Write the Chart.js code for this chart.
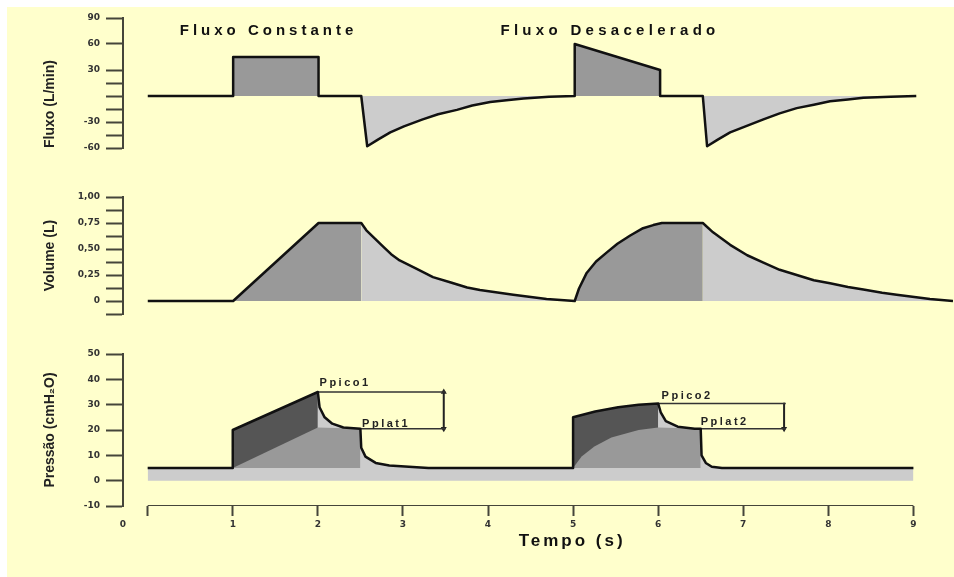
<!DOCTYPE html>
<html>
<head>
<meta charset="utf-8">
<script src="https://cdn.jsdelivr.net/npm/chart.js@4.4.1/dist/chart.umd.min.js"></script>
<style>
  body { margin: 0; background: #fff; }
  #wrap { position: relative; width: 954px; height: 577px; overflow: hidden; }
  #paper { position: absolute; left: 7px; top: 7px; right: 0; bottom: 0; background: #ffffcc; }
  canvas { position: absolute; left: 0; }
</style>
</head>
<body>
<div id="wrap">
  <div id="paper"></div>
  <canvas id="flowChart" width="954" height="170" style="top:0px"></canvas>
  <canvas id="volChart" width="954" height="160" style="top:170px"></canvas>
  <canvas id="presChart" width="954" height="247" style="top:330px"></canvas>
</div>
<script>
// fluxo (L/min)
const flowTime = [0, 1, 1, 2, 2, 2.5, 2.57, 2.7, 2.84, 3, 3.22, 3.4, 3.62, 3.8, 4.01, 4.2, 4.4, 4.7,
  5, 5, 6, 6, 6.5, 6.55, 6.68, 6.82, 7, 7.21, 7.4, 7.6, 7.8, 7.99, 8.2, 8.38, 8.7, 9];
const flowValue = [0, 0, 45, 45, 0, 0, -58, -50, -42, -35, -27, -21, -16, -11, -7, -5, -3, -1,
  0, 60, 30, 0, 0, -58, -50, -42, -35, -27, -20, -14, -10, -6, -4, -2, -1, 0];

// volume (L)
const volTime = [0, 1, 2, 2.5, 2.56, 2.66, 2.76, 2.85, 2.95, 3.15, 3.34, 3.54, 3.74, 3.89, 4.28, 4.67,
  5, 5.05, 5.14, 5.25, 5.38, 5.5, 5.65, 5.8, 5.92, 6.02, 6.5,
  6.62, 6.82, 7.02, 7.21, 7.4, 7.6, 7.8, 7.99, 8.2, 8.38, 8.6, 8.77, 9, 9.16, 9.43];
const volValue = [0, 0, 0.75, 0.75, 0.68, 0.6, 0.52, 0.45, 0.39, 0.31, 0.23, 0.18, 0.13, 0.105, 0.06, 0.02,
  0, 0.12, 0.27, 0.38, 0.47, 0.55, 0.63, 0.7, 0.73, 0.75, 0.75,
  0.66, 0.54, 0.44, 0.37, 0.3, 0.25, 0.2, 0.17, 0.135, 0.11, 0.08, 0.06, 0.035, 0.02, 0];

// pressao (cmH2O)
const presTime = [0, 1, 1, 2, 2.02, 2.08, 2.17, 2.3, 2.5, 2.51, 2.56, 2.68, 2.84, 3.07, 3.3,
  5, 5, 5.26, 5.53, 5.77, 6, 6.03, 6.09, 6.23, 6.43, 6.5, 6.51, 6.56, 6.63, 6.75, 9];
const presValue = [5, 5, 20, 35, 29, 25, 22.5, 21, 20.5, 13, 9.5, 7, 6, 5.5, 5,
  5, 25, 27.3, 29, 30, 30.5, 27, 23.5, 21.3, 20.5, 20.5, 10, 7, 5.5, 5, 5];
// pressao alveolar (area cinza media)
const alvTime = [1, 2, 2.5, 5, 5.1, 5.25, 5.45, 5.77, 6, 6.5];
const alvValue = [5, 21, 20.5, 5, 9.5, 13.5, 17, 20, 21, 20.5];
const peep = 5;

// fases do ciclo
const inspPhases = [[1, 2.5], [5, 6.5]];
const expPhases = [[2.5, 5], [6.5, 9.43]];
const risePhases = [[1, 2], [5, 6]];

// Ppico / Pplat
const picoT = [[2, 3.5], [6, 7.5]];
const picoP = [35, 30.5];
const platT = [[2.5, 3.5], [6.5, 7.5]];
const platP = [20.5, 20.5];
const arrowT = [3.48, 7.48];
const noteText = ['Ppico1', 'Pplat1', 'Ppico2', 'Pplat2'];
const noteT = [2.02, 2.52, 6.04, 6.5];
const noteP = [38.5, 22.5, 33.6, 23.3];

// eixos
const flowTicks = [-60, -45, -30, -15, 0, 15, 30, 60, 90];
const flowTickLabels = ['-60', '', '-30', '', '', '', '30', '60', '90'];
const volTicks = [-0.125, 0, 0.125, 0.25, 0.375, 0.5, 0.625, 0.75, 0.875, 1];
const volTickLabels = ['', '0', '', '0,25', '', '0,50', '', '0,75', '', '1,00'];
const presTicks = [-10, 0, 10, 20, 30, 40, 50];
const presTickLabels = ['-10', '0', '10', '20', '30', '40', '50'];
const timeTicks = [0, 1, 2, 3, 4, 5, 6, 7, 8, 9];
const timeTickLabels = ['0', '1', '2', '3', '4', '5', '6', '7', '8', '9'];

const xMin = -0.29, xMax = 9.43;
const axisColor = '#45453a';
const lineColor = '#111';
const tickFont = { family: '"DejaVu Sans", sans-serif', size: 9, weight: 'bold' };
const yTitleFont = { family: '"Liberation Sans", sans-serif', size: 14, weight: 'bold' };

function pts(ts, vs) {
  return ts.map((t, i) => ({ x: t, y: vs[i] }));
}
function within(ts, vs, ph) {
  return pts(ts, vs).filter(p => p.x >= ph[0] && p.x <= ph[1]);
}

// textos livres (titulos, Ppico/Pplat)
const notesPlugin = {
  id: 'notes',
  afterDatasetsDraw(chart, args, opts) {
    const ctx = chart.ctx;
    (opts.items || []).forEach(n => {
      ctx.save();
      ctx.font = n.font;
      ctx.fillStyle = n.color || '#111';
      ctx.letterSpacing = n.spacing || '0px';
      ctx.textAlign = 'left';
      ctx.textBaseline = 'middle';
      ctx.fillText(n.text, chart.scales.x.getPixelForValue(n.x), chart.scales.y.getPixelForValue(n.y));
      ctx.restore();
    });
  }
};

function yAxis(min, max, ticks, labels, title, align) {
  return {
    min: min, max: max,
    afterBuildTicks: s => { s.ticks = ticks.map(v => ({ value: v })); },
    afterFit: s => { s.width = 123; },
    border: { color: axisColor, width: 2 },
    grid: { drawOnChartArea: false, tickLength: 17, tickWidth: 2, tickColor: axisColor },
    ticks: { autoSkip: false, padding: 6, color: '#333', font: tickFont, callback: (v, i) => labels[i] },
    title: { display: true, text: title, align: align, color: '#222', font: yTitleFont, padding: { top: 42, bottom: 0 } }
  };
}

function xAxis(show) {
  return {
    type: 'linear', min: xMin, max: xMax, display: show,
    afterBuildTicks: s => { s.ticks = [{ value: xMin }].concat(timeTicks.map(v => ({ value: v }))); },
    afterFit: s => { s.height = show ? 71 : 0; },
    border: { display: false },
    grid: { drawOnChartArea: false, tickLength: 10, tickWidth: 2,
      tickColor: c => c.index === 0 ? 'rgba(0,0,0,0)' : axisColor },
    ticks: { autoSkip: false, maxRotation: 0, padding: 3, color: '#333', font: tickFont,
      callback: (v, i) => i === 0 ? timeTickLabels[0] : (i === 1 ? '' : timeTickLabels[i - 1]) }
  };
}

function makeChart(id, datasets, y, showX, pad, items) {
  return new Chart(document.getElementById(id), {
    type: 'line',
    data: { datasets: datasets },
    options: {
      responsive: false, animation: false, events: [],
      layout: { padding: { top: pad[0], bottom: pad[1], left: 0, right: 1 } },
      elements: { point: { radius: 0 }, line: { borderJoinStyle: 'round' } },
      plugins: { legend: { display: false }, tooltip: { enabled: false }, notes: { items: items } },
      scales: { x: xAxis(showX), y: y }
    },
    plugins: [notesPlugin]
  });
}

const titleFont = 'bold 15px "Liberation Sans", sans-serif';

// Fluxo
makeChart('flowChart', [{
  data: pts(flowTime, flowValue), borderColor: lineColor, borderWidth: 2.5,
  fill: { target: 'origin', above: '#999999', below: '#cccccc' }
}], yAxis(-60, 90, flowTicks, flowTickLabels, 'Fluxo (L/min)', 'start'), false, [18, 22], [
  { text: 'Fluxo Constante', x: 0.375, y: 75, font: titleFont, spacing: '4px' },
  { text: 'Fluxo Desacelerado', x: 4.13, y: 75, font: titleFont, spacing: '4.3px' }
]);

// Volume
const volSets = [{ data: pts(volTime, volValue), borderColor: lineColor, borderWidth: 2.5, fill: false, order: 0 }];
inspPhases.forEach(ph => volSets.push({ data: within(volTime, volValue, ph), borderWidth: 0,
  borderColor: 'rgba(0,0,0,0)', backgroundColor: '#999999', fill: 'origin', order: 2 }));
expPhases.forEach(ph => volSets.push({ data: within(volTime, volValue, ph), borderWidth: 0,
  borderColor: 'rgba(0,0,0,0)', backgroundColor: '#cccccc', fill: 'origin', order: 2 }));
makeChart('volChart', volSets, yAxis(-0.125, 1, volTicks, volTickLabels, 'Volume (L)', 'center'), false, [27, 16], []);

// Pressao
const presSets = [
  { data: pts(presTime, presValue), borderColor: lineColor, borderWidth: 2.5, fill: false, order: 0 },
  { data: pts(presTime, presValue), borderWidth: 0, borderColor: 'rgba(0,0,0,0)',
    backgroundColor: '#cccccc', fill: 'origin', order: 5 },
  { data: [{ x: timeTicks[0], y: presTicks[0] }, { x: timeTicks[timeTicks.length - 1], y: presTicks[0] }],
    borderColor: axisColor, borderWidth: 2, fill: false, order: 0 }
];
risePhases.forEach(ph => presSets.push({ data: within(presTime, presValue, ph), borderWidth: 0,
  borderColor: 'rgba(0,0,0,0)', backgroundColor: '#555555', fill: { value: peep }, order: 4 }));
inspPhases.forEach(ph => presSets.push({ data: within(alvTime, alvValue, ph), borderWidth: 0,
  borderColor: 'rgba(0,0,0,0)', backgroundColor: '#999999', fill: { value: peep }, order: 3 }));
picoT.forEach((tt, k) => {
  presSets.push({ data: [{ x: tt[0], y: picoP[k] }, { x: tt[1], y: picoP[k] }],
    borderColor: '#333', borderWidth: 1.5, fill: false, order: 1 });
  presSets.push({ data: [{ x: platT[k][0], y: platP[k] }, { x: platT[k][1], y: platP[k] }],
    borderColor: '#333', borderWidth: 1.5, fill: false, order: 1 });
  presSets.push({ data: [{ x: arrowT[k], y: picoP[k] }, { x: arrowT[k], y: platP[k] }],
    borderColor: '#222', borderWidth: 2, fill: false, order: 1,
    pointStyle: 'triangle', pointRadius: k === 0 ? [3.5, 3.5] : [0, 3.5], pointRotation: [0, 180],
    pointBackgroundColor: '#222', pointBorderWidth: 0 });
});
const presNotes = noteText.map((t, i) => ({ text: t, x: noteT[i], y: noteP[i],
  font: 'bold 11px "Liberation Sans", sans-serif', spacing: '2.5px', color: '#222' }));
presNotes.push({ text: 'Tempo (s)', x: 4.36, y: -24, font: 'bold 17px "Liberation Sans", sans-serif', spacing: '3px' });
makeChart('presChart', presSets, yAxis(-10, 50, presTicks, presTickLabels, 'Pressão (cmH₂O)', 'center'), true, [24, 0], presNotes);
</script>
</body>
</html>
